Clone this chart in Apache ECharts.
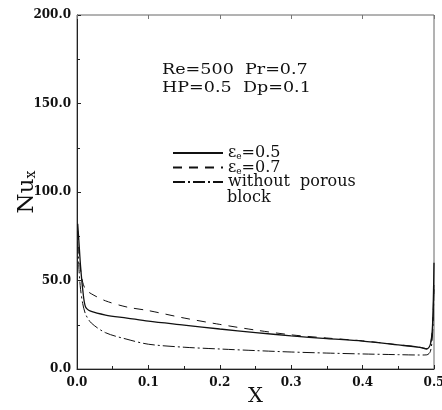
<!DOCTYPE html>
<html>
<head>
<meta charset="utf-8">
<script src="https://cdn.jsdelivr.net/npm/echarts@6/dist/echarts.min.js"></script>
<style>
  html, body { margin: 0; padding: 0; background: #fff; }
  #chart { width: 442px; height: 410px; }
</style>
</head>
<body>
<div id="chart"></div>
<script>
  // X positions along the channel
  var xPos = [0.001, 0.003, 0.005, 0.008, 0.012, 0.02, 0.04, 0.07, 0.1, 0.15, 0.2, 0.25, 0.3, 0.35, 0.4, 0.45, 0.48, 0.49, 0.495, 0.498, 0.5];
  // Nu_x, eps_e = 0.5 (solid)
  var nuEps05 = [82, 70, 58, 45, 35, 32.5, 30.5, 28.8, 27, 24.8, 22.6, 20.6, 18.7, 17.2, 15.8, 13.6, 12.2, 11.3, 14, 25, 60];
  // Nu_x, eps_e = 0.7 (dashed)
  var nuEps07 = [78, 66, 56, 49, 45, 42.5, 38.5, 35, 33, 28.8, 25.2, 22, 19.3, 17.5, 15.9, 13.7, 12.3, 11.5, 14, 24, 50];
  // Nu_x, without porous block (dash-dot)
  var nuNone = [72, 55, 45, 37, 31, 26, 20.5, 16.8, 14, 12.3, 11.3, 10.4, 9.6, 9, 8.5, 8.1, 7.9, 8, 10, 20, 45];

  var xTicks = [0, 0.1, 0.2, 0.3, 0.4, 0.5];
  var yTicks = [0, 50, 100, 150, 200];

  function pairs(ys) {
    var out = [];
    for (var i = 0; i < xPos.length; i++) out.push([xPos[i], ys[i]]);
    return out;
  }

  var serif = 'DejaVu Serif';
  var chart = echarts.init(document.getElementById('chart'));
  var tickLabel = { fontFamily: serif, fontWeight: 'bold', fontSize: 12, color: '#111' };
  var legendRich = {
    a: { fontFamily: serif, fontSize: 16, color: '#111' },
    s: { fontFamily: serif, fontSize: 9, color: '#111', padding: [8, 0, 0, 0] }
  };

  chart.setOption({
    animation: false,
    backgroundColor: '#fff',
    grid: { left: 77, right: 8, top: 15, bottom: 41, show: true, borderColor: '#666', borderWidth: 1,
            containLabel: false, outerBoundsMode: 'none' },
    xAxis: [{
      type: 'value', min: xTicks[0], max: xTicks[xTicks.length - 1], interval: 0.1,
      name: 'X', nameLocation: 'middle', nameGap: 17, nameMoveOverlap: false,
      nameTextStyle: { fontFamily: serif, fontSize: 21, color: '#111' },
      axisLine: { lineStyle: { color: '#222' } },
      axisTick: { inside: true, length: 4, lineStyle: { color: '#222' } },
      minorTick: { show: true, splitNumber: 2, length: 3, lineStyle: { color: '#222' } },
      splitLine: { show: false },
      axisLabel: Object.assign({ margin: 8, formatter: function (v) { return v.toFixed(1); } }, tickLabel)
    }, {
      type: 'value', position: 'top', min: 0, max: 0.5, interval: 0.1,
      axisLine: { show: false }, axisLabel: { show: false }, splitLine: { show: false },
      axisTick: { inside: true, length: 4, lineStyle: { color: '#777' } }
    }],
    yAxis: [{
      type: 'value', min: yTicks[0], max: yTicks[yTicks.length - 1], interval: 50,
      name: '{a|Nu}{b|x}', nameLocation: 'middle', nameGap: 38, nameRotate: 90, nameMoveOverlap: false,
      nameTextStyle: { rich: {
        a: { fontFamily: serif, fontSize: 23, color: '#111' },
        b: { fontFamily: serif, fontSize: 14, color: '#111', padding: [8, 0, 0, 0] }
      } },
      axisLine: { lineStyle: { color: '#222' } },
      axisTick: { inside: true, length: 4, lineStyle: { color: '#222' } },
      minorTick: { show: true, splitNumber: 2, length: 3, lineStyle: { color: '#222' } },
      splitLine: { show: false },
      axisLabel: Object.assign({ margin: 6, formatter: function (v) { return v.toFixed(1); } }, tickLabel)
    }],
    legend: {
      show: true, orient: 'vertical', left: 172, top: 145, padding: 0,
      itemWidth: 50, itemHeight: 10, itemGap: -2, itemStyle: { opacity: 0 },
      data: ['eps05', 'eps07', 'none'],
      formatter: function (name) {
        if (name === 'eps05') return '{a|ε}{s|e}{a|=0.5}';
        if (name === 'eps07') return '{a|ε}{s|e}{a|=0.7}';
        return '{a|without  porous}';
      },
      textStyle: { rich: legendRich, lineHeight: 15 }
    },
    graphic: [{
      type: 'text', left: 162, top: 61, scaleX: 1.17,
      style: { text: 'Re=500  Pr=0.7\nHP=0.5  Dp=0.1', font: '15px "DejaVu Serif"', fill: '#111', lineHeight: 18 }
    }, {
      // second line of the third legend entry
      type: 'text', left: 227, top: 190,
      style: { text: 'block', font: '16px "DejaVu Serif"', fill: '#111' }
    }],
    series: [{
      name: 'eps05', type: 'line', data: pairs(nuEps05), smooth: 0.3, symbol: 'none',
      lineStyle: { color: '#111', width: 1.3, type: 'solid' }, itemStyle: { color: '#111' }
    }, {
      name: 'eps07', type: 'line', data: pairs(nuEps07), smooth: 0.3, symbol: 'none',
      lineStyle: { color: '#111', width: 1, type: [9, 7] }, itemStyle: { color: '#111' }
    }, {
      name: 'none', type: 'line', data: pairs(nuNone), smooth: 0.3, symbol: 'none',
      lineStyle: { color: '#111', width: 1, type: [12, 3, 2, 3] }, itemStyle: { color: '#111' }
    }]
  });
</script>
</body>
</html>
